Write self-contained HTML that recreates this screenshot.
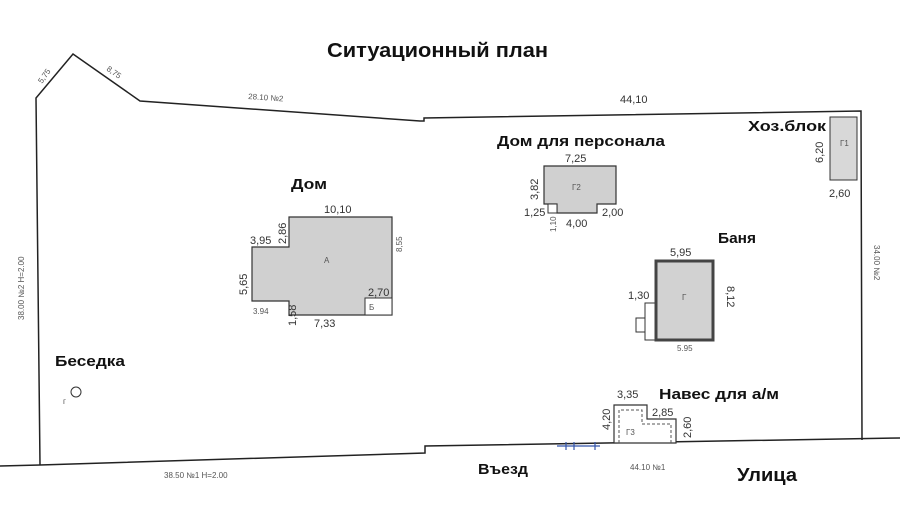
<!DOCTYPE html>
<html><head><meta charset="utf-8"><style>
html,body{margin:0;padding:0;background:#fff;width:900px;height:509px;overflow:hidden}
svg{display:block}
.b{font-family:"Liberation Sans","DejaVu Sans",sans-serif;font-weight:bold;fill:#111}
.s{font-family:"Liberation Sans","DejaVu Sans",sans-serif;fill:#333;font-size:11px}
.t{font-family:"Liberation Sans","DejaVu Sans",sans-serif;fill:#555;font-size:8px}
</style></head><body>
<svg width="900" height="509" viewBox="0 0 900 509" xmlns="http://www.w3.org/2000/svg">
<rect width="900" height="509" fill="#fff"/>
<g stroke="#222" stroke-width="1.5" fill="none">
<polyline points="40,465 36,98 73,54 140,101 420,121 424,121 424,118 861,111 862,440"/>
<polyline points="0,466 40,465 425,453 425,446 900,438"/>
</g>
<text class="b" x="327" y="57" font-size="20" textLength="221" lengthAdjust="spacingAndGlyphs">Ситуационный план</text>
<text class="t" x="42" y="84" transform="rotate(-55 42 84)">5,75</text>
<text class="t" x="106" y="70" transform="rotate(35 106 70)">8,75</text>
<text class="t" x="248" y="99" transform="rotate(4 248 99)">28.10 №2</text>
<text class="s" x="620" y="103" font-size="10">44,10</text>
<text class="t" x="24" y="320" transform="rotate(-90 24 320)">38.00 №2 H=2.00</text>
<text class="t" x="874" y="245" transform="rotate(90 874 245)">34.00 №2</text>
<text class="t" x="164" y="478">38.50 №1  H=2.00</text>
<text class="t" x="630" y="470">44.10 №1</text>
<!-- Дом -->
<text class="b" x="291" y="189" font-size="15" textLength="36" lengthAdjust="spacingAndGlyphs">Дом</text>
<polygon points="289,217 392,217 392,315 289,315 289,301 252,301 252,247 289,247" fill="#d0d0d0" stroke="#333" stroke-width="1.2"/>
<rect x="365" y="298" width="27" height="17" fill="#fff" stroke="#333"/>
<text class="t" x="369" y="310">Б</text>
<text class="t" x="324" y="263">А</text>
<text class="s" x="324" y="213">10,10</text>
<text class="s" x="250" y="244">3,95</text>
<text class="s" x="286" y="244" transform="rotate(-90 286 244)">2,86</text>
<text class="s" x="247" y="295" transform="rotate(-90 247 295)">5,65</text>
<text class="t" x="402" y="252" transform="rotate(-90 402 252)">8,55</text>
<text class="s" x="368" y="296" font-size="10">2,70</text>
<text class="t" x="253" y="314">3.94</text>
<text class="s" x="296" y="326" transform="rotate(-90 296 326)">1,58</text>
<text class="s" x="314" y="327">7,33</text>
<!-- Дом для персонала -->
<text class="b" x="497" y="146" font-size="15" textLength="168" lengthAdjust="spacingAndGlyphs">Дом для персонала</text>
<polygon points="544,166 616,166 616,204 597,204 597,213 557,213 557,204 544,204" fill="#d0d0d0" stroke="#333" stroke-width="1.2"/>
<rect x="548" y="204" width="9" height="9" fill="#fff" stroke="#333"/>
<text class="t" x="572" y="190">Г2</text>
<text class="s" x="565" y="162">7,25</text>
<text class="s" x="538" y="200" transform="rotate(-90 538 200)">3,82</text>
<text class="s" x="524" y="216" font-size="10">1,25</text>
<text class="s" x="602" y="216" font-size="10">2,00</text>
<text class="s" x="566" y="227" font-size="10">4,00</text>
<text class="t" x="556" y="232" transform="rotate(-90 556 232)">1,10</text>
<!-- Баня -->
<text class="b" x="718" y="243" font-size="15" textLength="38" lengthAdjust="spacingAndGlyphs">Баня</text>
<text class="s" x="670" y="256">5,95</text>
<rect x="645" y="303" width="11" height="37" fill="#fff" stroke="#333"/>
<rect x="636" y="318" width="9" height="14" fill="#fff" stroke="#333"/>
<rect x="656" y="261" width="57" height="79" fill="#d2d2d2" stroke="#444" stroke-width="3"/>
<text class="t" x="682" y="300">Г</text>
<text class="s" x="628" y="299" font-size="10">1,30</text>
<text class="s" x="727" y="286" font-size="10" transform="rotate(90 727 286)">8,12</text>
<text class="t" x="677" y="351">5.95</text>
<!-- Хоз.блок -->
<text class="b" x="748" y="131" font-size="15" textLength="78" lengthAdjust="spacingAndGlyphs">Хоз.блок</text>
<rect x="830" y="117" width="27" height="63" fill="#d8d8d8" stroke="#333"/>
<text class="t" x="840" y="146">Г1</text>
<text class="s" x="823" y="163" font-size="10" transform="rotate(-90 823 163)">6,20</text>
<text class="s" x="829" y="197" font-size="10">2,60</text>
<!-- Беседка -->
<text class="b" x="55" y="366" font-size="15" textLength="70" lengthAdjust="spacingAndGlyphs">Беседка</text>
<circle cx="76" cy="392" r="5" fill="#fff" stroke="#333"/>
<text class="t" x="63" y="404">г</text>
<!-- Навес -->
<text class="b" x="659" y="399" font-size="15" textLength="120" lengthAdjust="spacingAndGlyphs">Навес для а/м</text>
<polygon points="614,405 647,405 647,419 676,419 676,443 614,443" fill="#fff" stroke="#333" stroke-width="1.2"/>
<polyline points="619,443 619,410 642,410 642,424 671,424 671,443" fill="none" stroke="#555" stroke-dasharray="3,2"/>
<text class="t" x="626" y="435">Г3</text>
<text class="s" x="617" y="398" font-size="10">3,35</text>
<text class="s" x="652" y="416" font-size="10">2,85</text>
<text class="s" x="610" y="430" font-size="10" transform="rotate(-90 610 430)">4,20</text>
<text class="s" x="691" y="438" font-size="10" transform="rotate(-90 691 438)">2,60</text>
<g stroke="#35a" stroke-width="1.2"><line x1="557" y1="446" x2="600" y2="446"/><line x1="566" y1="442" x2="566" y2="450"/><line x1="574" y1="442" x2="574" y2="450"/><line x1="595" y1="442" x2="595" y2="450"/></g>
<text class="b" x="478" y="474" font-size="15" textLength="50" lengthAdjust="spacingAndGlyphs">Въезд</text>
<text class="b" x="737" y="481" font-size="18" textLength="60" lengthAdjust="spacingAndGlyphs">Улица</text>
</svg>
</body></html>
